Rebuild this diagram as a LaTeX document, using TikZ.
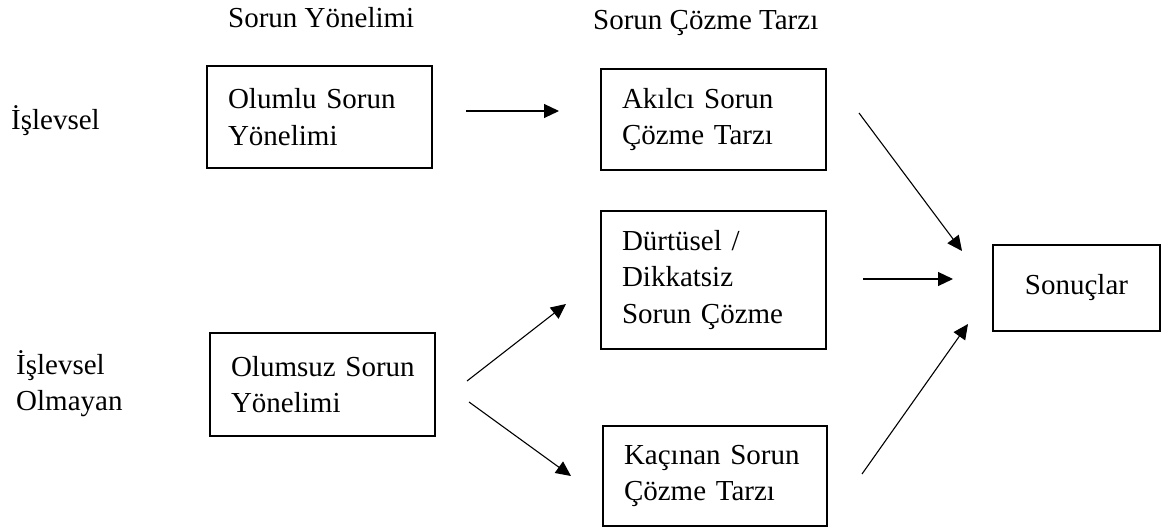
\documentclass[tikz,border=0pt]{standalone}
\usepackage{fontspec}
\setmainfont{Liberation Serif}
\usetikzlibrary{arrows.meta}
\begin{document}
\begin{tikzpicture}[x=1pt,y=-1pt,
  every node/.style={font=\fontsize{29}{36.5}\selectfont},
  box/.style={draw,line width=1.8pt,inner xsep=21pt,inner ysep=0pt,align=left},
  lbl/.style={inner sep=0pt},
  conn/.style={line width=1.1pt,-{Triangle[length=15pt,width=14pt]}}]
\useasboundingbox (0,0) rectangle (1162,529);
% boxes
\node[box,minimum width=225,minimum height=102,text width=183] (ol) at (319.5,117) {\mbox{Olumlu Sorun}\\Yönelimi};
\node[box,minimum width=225,minimum height=101,text width=183] (ak) at (713.5,119.5) {\mbox{Akılcı Sorun}\\\mbox{Çözme Tarzı}};
\node[box,minimum width=225,minimum height=138,text width=183] (du) at (713.5,280) {Dürtüsel /\\Dikkatsiz\\\mbox{Sorun Çözme}};
\node[box,minimum width=225,minimum height=103,text width=183] (om) at (322.5,384.5) {\mbox{Olumsuz Sorun}\\Yönelimi};
\node[box,minimum width=224,minimum height=100,text width=182] (ka) at (715,476) {\mbox{Kaçınan Sorun}\\\mbox{Çözme Tarzı}};
\node[box,minimum width=167,minimum height=86,inner xsep=0pt,align=center] (so) at (1076.5,288) {Sonuçlar};
% labels
\node[lbl,anchor=base west] (h1) at (228,28) {Sorun Yönelimi};
\node[lbl,anchor=base west] (h2) at (593,30) {Sorun Çözme Tarzı};
\node[lbl,anchor=base west] (l1) at (11,130) {İşlevsel};
\node[lbl,anchor=west,align=left] (l2) at (16,383.5) {İşlevsel\\Olmayan};
% connector end points
\coordinate (a1s) at (466,111); \coordinate (a1e) at (559,111);
\coordinate (a2s) at (467,381); \coordinate (a2e) at (566,304);
\coordinate (a3s) at (469,402); \coordinate (a3e) at (571,476);
\coordinate (a4s) at (859,113); \coordinate (a4e) at (962,251);
\coordinate (a5s) at (863,279); \coordinate (a5e) at (953,279);
\coordinate (a6s) at (862,474); \coordinate (a6e) at (968,324);
\draw[conn] (a1s) -- (a1e);
\draw[conn] (a2s) -- (a2e);
\draw[conn] (a3s) -- (a3e);
\draw[conn] (a4s) -- (a4e);
\draw[conn] (a5s) -- (a5e);
\draw[conn] (a6s) -- (a6e);
\end{tikzpicture}
\end{document}
